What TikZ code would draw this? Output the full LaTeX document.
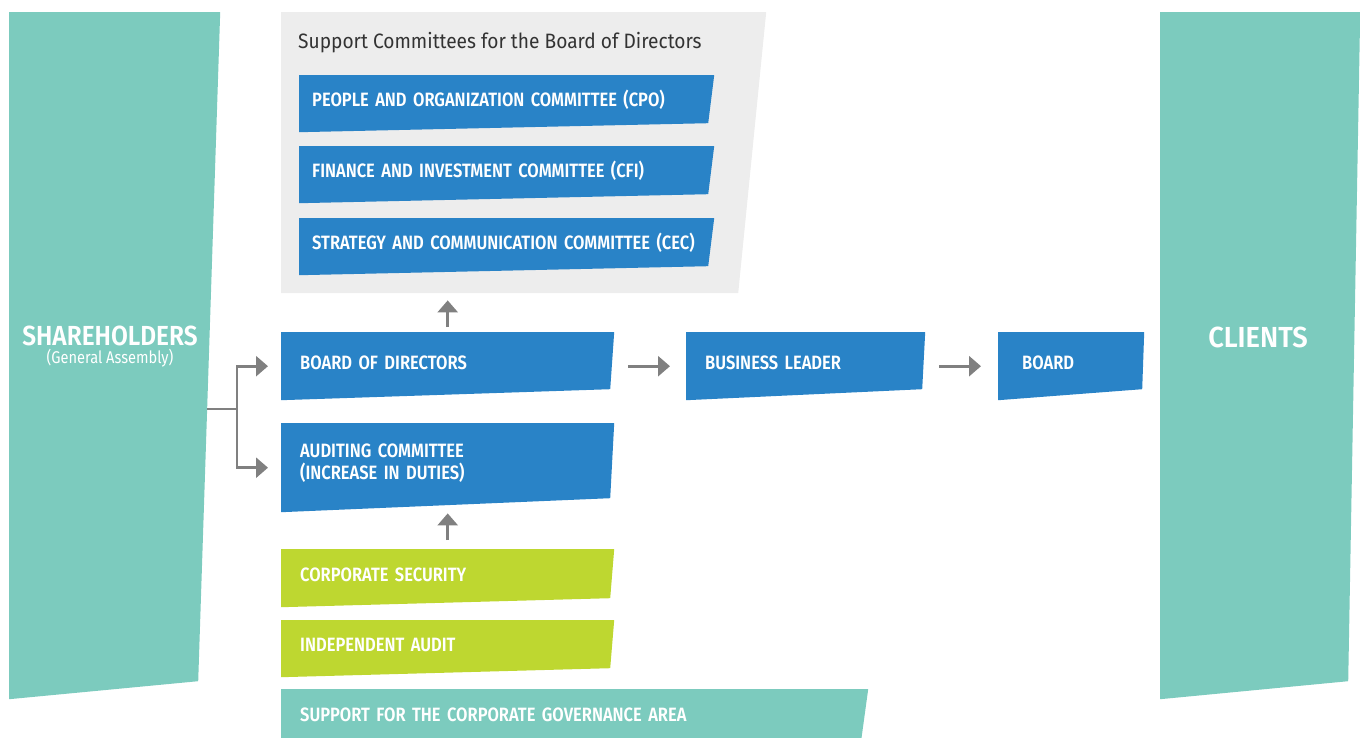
\documentclass[tikz,border=0pt]{standalone}
\usepackage{fontspec}
\setsansfont{Fira Sans}[FakeStretch=0.82, BoldFont={Fira Sans SemiBold}]
\renewcommand{\familydefault}{\sfdefault}
\newfontfamily\boxfam{Fira Sans}[FakeStretch=0.855, WordSpace=0.85, BoldFont={Fira Sans SemiBold}]
\newfontfamily\titlefam{Fira Sans}[FakeStretch=0.92]
\newfontfamily\sidefam{Fira Sans}[FakeStretch=0.885, BoldFont={Fira Sans SemiBold}]
\newfontfamily\clientfam{Fira Sans}[FakeStretch=0.94, BoldFont={Fira Sans SemiBold}]
\newfontfamily\subfam{Fira Sans}[FakeStretch=0.86]
\usetikzlibrary{arrows.meta}

\definecolor{tealc}{HTML}{7CCBBE}
\definecolor{bluec}{HTML}{2983C7}
\definecolor{limec}{HTML}{BED730}
\definecolor{panelc}{HTML}{EDEDED}
\definecolor{arrowc}{HTML}{808080}
\definecolor{titlec}{HTML}{333333}

\newcommand{\boxfont}{\boxfam\fontsize{19.3}{22}\selectfont\bfseries}
\newcommand{\titlefont}{\titlefam\fontsize{20.8}{24}\selectfont}
\newcommand{\sidefont}{\sidefam\fontsize{27.6}{30}\selectfont\bfseries}
\newcommand{\clientfont}{\clientfam\fontsize{29}{32}\selectfont\bfseries}
\newcommand{\subfont}{\subfam\fontsize{17}{20}\selectfont}

\tikzset{
  slant/.style n args={3}{path picture={
      \fill[#1] (path picture bounding box.north west) -- (path picture bounding box.north east)
        -- ([xshift=-#2, yshift=#3]path picture bounding box.south east)
        -- (path picture bounding box.south west) -- cycle;}},
  govbox/.style={anchor=north west, inner xsep=19pt, inner ysep=0pt, text=white,
    font=\boxfont, align=left, text height=13pt, text depth=7pt},
  arr/.style={draw=arrowc, line width=2.7pt, -{Triangle[length=12pt, width=20pt]}},
  link/.style={draw=arrowc, line width=2.7pt},
}

\begin{document}
\begin{tikzpicture}[x=1pt, y=-1pt]
    \useasboundingbox (0,0) rectangle (1360,738);

    % Side columns
    \node[anchor=north west, inner sep=0pt, minimum width=211pt, minimum height=687pt,
          slant={tealc}{22pt}{18pt}] (sh) at (9,12) {};
    \node[anchor=base, text=white, font=\sidefont, inner sep=0pt] (shname) at (110,345) {SHAREHOLDERS};
    \node[anchor=base, text=white, font=\subfont, inner sep=0pt] (shsub) at (110,363) {(General Assembly)};
    \node[anchor=north west, inner sep=0pt, minimum width=200pt, minimum height=687pt,
          slant={tealc}{12pt}{18pt}] (cl) at (1160,12) {};
    \node[anchor=base, text=white, font=\clientfont, inner sep=0pt] (clname) at (1258,347) {CLIENTS};

    % Support committees panel
    \node[anchor=north west, inner sep=0pt, minimum width=485pt, minimum height=281pt,
          slant={panelc}{28pt}{0pt}] (sup) at (281,12) {};
    \node[anchor=base west, text=titlec, font=\titlefont, inner sep=0pt] (suptitle) at (298,49)
        {Support Committees for the Board of Directors};
    \node[govbox, inner xsep=13pt, text width=389pt, minimum height=57pt, slant={bluec}{6pt}{9pt}] (cpo) at (299,75)
        {PEOPLE AND ORGANIZATION COMMITTEE (CPO)};
    \node[govbox, inner xsep=13pt, text width=389pt, minimum height=57pt, slant={bluec}{6pt}{9pt}] (cfi) at (299,146)
        {FINANCE AND INVESTMENT COMMITTEE (CFI)};
    \node[govbox, inner xsep=13pt, text width=389pt, minimum height=57pt, slant={bluec}{6pt}{9pt}] (cec) at (299,218)
        {STRATEGY AND COMMUNICATION COMMITTEE (CEC)};

    % Main chain
    \node[govbox, text width=295pt, minimum height=68pt, slant={bluec}{4pt}{11pt}] (bod) at (281,332)
        {BOARD OF DIRECTORS};
    \node[govbox, text width=201pt, minimum height=68pt, slant={bluec}{3pt}{11pt}] (bl) at (686,332)
        {BUSINESS LEADER};
    \node[govbox, inner xsep=24pt, text width=98pt, minimum height=68pt, slant={bluec}{2pt}{11pt}] (brd) at (998,332)
        {BOARD};
    \node[govbox, text width=295pt, minimum height=89pt, text depth=33pt, slant={bluec}{4pt}{14pt}] (aud) at (281,423)
        {AUDITING COMMITTEE\\(INCREASE IN DUTIES)};

    % Supporting areas
    \node[govbox, text width=295pt, minimum height=58pt, slant={limec}{4pt}{9pt}] (cs) at (281,549)
        {CORPORATE SECURITY};
    \node[govbox, text width=295pt, minimum height=57pt, slant={limec}{4pt}{9pt}] (ia) at (281,620)
        {INDEPENDENT AUDIT};
    \node[govbox, text width=549pt, minimum height=59pt, slant={tealc}{7pt}{8pt}] (sga) at (281,689)
        {SUPPORT FOR THE CORPORATE GOVERNANCE AREA};

    % Connectors
    \coordinate (shout) at (207,409);
    \coordinate (fork) at (237,409);
    \draw[link] (shout) -- (fork);
    \draw[arr, shorten >=13pt] (fork) |- (bod.west);
    \draw[arr, shorten >=13pt] (fork) |- (aud.west);
    \draw[arr, shorten <=5pt, shorten >=7pt] (bod.north) -- (bod.north |- sup.south);
    \draw[arr, shorten <=9pt, shorten >=1pt] (cs.north) -- (aud.south);
    \draw[arr, shorten <=14pt, shorten >=16pt] (bod.east) -- (bl.west);
    \draw[arr, shorten <=14pt, shorten >=17pt] (bl.east) -- (brd.west);
\end{tikzpicture}
\end{document}
